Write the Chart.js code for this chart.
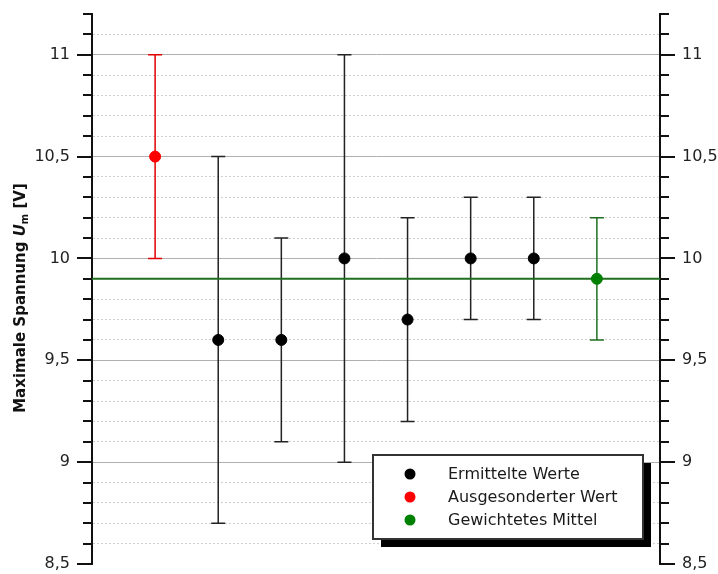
<!DOCTYPE html>
<html>
<head>
<meta charset="utf-8">
<script src="https://cdn.jsdelivr.net/npm/chart.js@4/dist/chart.umd.min.js"></script>
<style>
html,body{margin:0;padding:0;background:#fff;}
#wrap{width:718px;height:574px;}
</style>
</head>
<body>
<div id="wrap"><canvas id="c" width="718" height="574"></canvas></div>
<script>
// ---- data ----
const measuredX    = [2, 3, 4, 5, 6, 7];
const measuredY    = [9.6, 9.6, 10.0, 9.7, 10.0, 10.0];
const measuredLow  = [8.7, 9.1, 9.0, 9.2, 9.7, 9.7];
const measuredHigh = [10.5, 10.1, 11.0, 10.2, 10.3, 10.3];

const rejectedX    = [1];
const rejectedY    = [10.5];
const rejectedLow  = [10.0];
const rejectedHigh = [11.0];

const meanX    = [8];
const meanY    = [9.9];
const meanLow  = [9.6];
const meanHigh = [10.2];

const weightedMean = 9.9;
const seriesLabels = ['Ermittelte Werte', 'Ausgesonderter Wert', 'Gewichtetes Mittel'];
const yMin = 8.5, yMax = 11.2, xMin = 0, xMax = 9;

const FONT = "'DejaVu Sans', sans-serif";
const GREEN_LINE = '#1f6f1f';

function pts(xs, ys){ return xs.map((x,i)=>({x:x, y:ys[i]})); }
function isMajor(v){ return Math.abs(v*2 - Math.round(v*2)) < 1e-6; }
function fmt(v){ return String(Math.round(v*10)/10).replace('.', ','); }

const errorSets = [
  {xs: measuredX, lo: measuredLow, hi: measuredHigh, color: '#222222'},
  {xs: rejectedX, lo: rejectedLow, hi: rejectedHigh, color: '#e00000'},
  {xs: meanX,     lo: meanLow,     hi: meanHigh,     color: GREEN_LINE}
];

const errorBarPlugin = {
  id: 'errorBars',
  beforeDatasetsDraw(chart){
    const ctx = chart.ctx, xs = chart.scales.x, ys = chart.scales.y;
    ctx.save();
    ctx.lineWidth = 1.5;
    errorSets.forEach(s=>{
      ctx.strokeStyle = s.color;
      s.xs.forEach((x,i)=>{
        const px = xs.getPixelForValue(x);
        const pl = ys.getPixelForValue(s.lo[i]);
        const ph = ys.getPixelForValue(s.hi[i]);
        ctx.beginPath();
        ctx.moveTo(px, pl); ctx.lineTo(px, ph);
        ctx.moveTo(px-7, pl); ctx.lineTo(px+7, pl);
        ctx.moveTo(px-7, ph); ctx.lineTo(px+7, ph);
        ctx.stroke();
      });
    });
    ctx.restore();
  }
};

const decorPlugin = {
  id: 'decor',
  afterDraw(chart){
    const ctx = chart.ctx, ca = chart.chartArea;
    // tick marks on both y axes
    ['y','y2'].forEach(id=>{
      const sc = chart.scales[id];
      const edge = id === 'y' ? ca.left : ca.right;
      const dir = id === 'y' ? -1 : 1;
      ctx.save();
      ctx.strokeStyle = '#111';
      ctx.lineWidth = 2;
      sc.ticks.forEach(t=>{
        const py = Math.round(sc.getPixelForValue(t.value));
        const len = isMajor(t.value) ? 15 : 9;
        ctx.beginPath();
        ctx.moveTo(edge, py);
        ctx.lineTo(edge + dir*len, py);
        ctx.stroke();
      });
      ctx.restore();
    });

    // y-axis title with italic U and subscript m
    ctx.save();
    const cy = (ca.top + ca.bottom)/2 + 9;
    ctx.translate(25, cy);
    ctx.rotate(-Math.PI/2);
    ctx.fillStyle = '#111';
    ctx.textBaseline = 'alphabetic';
    const segs = [
      {t:'Maximale Spannung ', f:'bold 15px ' + FONT, dy:0},
      {t:'U', f:'italic bold 15px ' + FONT, dy:0},
      {t:'m', f:'bold 10px ' + FONT, dy:3},
      {t:' [V]', f:'bold 15px ' + FONT, dy:0}
    ];
    let total = 0;
    segs.forEach(s=>{ ctx.font = s.f; s.w = ctx.measureText(s.t).width; total += s.w; });
    let x = -total/2;
    segs.forEach(s=>{ ctx.font = s.f; ctx.fillText(s.t, x, s.dy); x += s.w; });
    ctx.restore();

    // legend with shadow
    const bx = ca.left + 281, by = ca.top + 441, bw = 270, bh = 84;
    ctx.save();
    ctx.fillStyle = '#000';
    ctx.fillRect(bx + 8, by + 8, bw, bh);
    ctx.fillStyle = '#fff';
    ctx.fillRect(bx, by, bw, bh);
    ctx.strokeStyle = '#333';
    ctx.lineWidth = 2;
    ctx.strokeRect(bx, by, bw, bh);
    ctx.font = '16px ' + FONT;
    ctx.textBaseline = 'middle';
    chart.data.datasets.slice(0,3).forEach((ds,i)=>{
      const ly = by + 19 + i*23;
      ctx.fillStyle = ds.backgroundColor;
      ctx.beginPath();
      ctx.arc(bx + 37, ly, 5.5, 0, Math.PI*2);
      ctx.fill();
      ctx.fillStyle = '#1a1a1a';
      ctx.fillText(ds.label, bx + 75, ly + 1);
    });
    ctx.restore();
  }
};

const gridColor = ctx => {
  const v = ctx.tick ? ctx.tick.value : 0;
  if (Math.abs(v - yMin) < 1e-6 || Math.abs(v - yMax) < 1e-6) return 'rgba(0,0,0,0)';
  return isMajor(v) ? '#b0b0b0' : '#cfcfcf';
};

function fitY(w){
  return function(s){ s.width = w; s.paddingTop = 0; s.paddingBottom = 0; };
}

new Chart(document.getElementById('c'), {
  type: 'scatter',
  data: {
    datasets: [
      {label: seriesLabels[0], data: pts(measuredX, measuredY), backgroundColor: '#000000', borderColor: '#000000', pointRadius: 5.5, pointHoverRadius: 5.5, order: 1},
      {label: seriesLabels[1], data: pts(rejectedX, rejectedY), backgroundColor: '#ff0000', borderColor: '#ff0000', pointRadius: 5.5, pointHoverRadius: 5.5, order: 1},
      {label: seriesLabels[2], data: pts(meanX, meanY), backgroundColor: '#008000', borderColor: '#008000', pointRadius: 5.5, pointHoverRadius: 5.5, order: 1},
      {label: 'mean line', type: 'line', data: [{x: xMin, y: weightedMean}, {x: xMax, y: weightedMean}], borderColor: GREEN_LINE, borderWidth: 2, pointRadius: 0, fill: false, order: 2}
    ]
  },
  options: {
    responsive: false,
    animation: false,
    events: [],
    layout: {padding: {top: 14, bottom: 10, left: 0, right: 0}},
    plugins: {legend: {display: false}, tooltip: {enabled: false}},
    scales: {
      x: {type: 'linear', min: xMin, max: xMax, display: false},
      y: {
        type: 'linear', position: 'left', min: yMin, max: yMax,
        afterFit: fitY(92),
        ticks: {
          stepSize: 0.1, autoSkip: false, padding: 22,
          color: '#222', font: {family: FONT, size: 16},
          callback: v => isMajor(v) ? fmt(v) : ''
        },
        grid: {display: true, drawTicks: false, color: gridColor, lineWidth: 1},
        border: {display: true, color: '#111', width: 2, dash: ctx => (ctx.tick && isMajor(ctx.tick.value)) ? [] : [2, 2]}
      },
      y2: {
        type: 'linear', position: 'right', min: yMin, max: yMax,
        afterFit: fitY(58),
        ticks: {
          stepSize: 0.1, autoSkip: false, padding: 22,
          color: '#222', font: {family: FONT, size: 16},
          callback: v => isMajor(v) ? fmt(v) : ''
        },
        grid: {display: true, drawOnChartArea: false, drawTicks: false},
        border: {display: true, color: '#111', width: 2}
      }
    }
  },
  plugins: [errorBarPlugin, decorPlugin]
});
</script>
</body>
</html>
